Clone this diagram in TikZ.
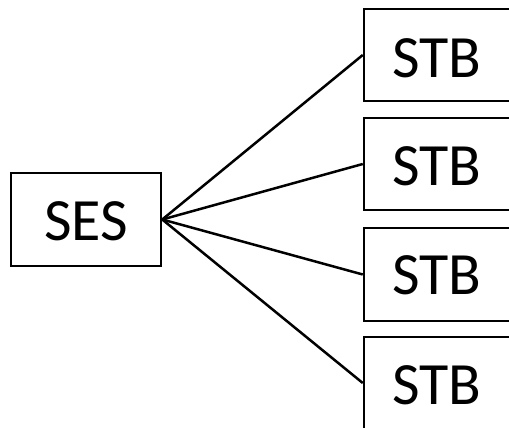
\documentclass[tikz,border=0pt]{standalone}
\usepackage{fontspec}
\setmainfont{Carlito}
\begin{document}
\begin{tikzpicture}[x=1pt,y=-1pt,
  box/.style={draw=black,line width=2.5pt,rectangle,inner sep=0pt},
  lab/.style={font=\fontsize{60}{72}\selectfont,inner sep=0pt,anchor=center},
  conn/.style={draw=black,line width=2.5pt}]
\useasboundingbox (0,0) rectangle (509,428);
\clip (0,0) rectangle (509,428);
\node[box,minimum width=150pt,minimum height=93pt] (ses) at (86,219.5) {};
\node[box,minimum width=160pt,minimum height=92pt] (b1) at (444,55) {};
\node[box,minimum width=160pt,minimum height=92pt] (b2) at (444,164) {};
\node[box,minimum width=160pt,minimum height=93pt] (b3) at (444,274.5) {};
\node[box,minimum width=160pt,minimum height=92pt] (b4) at (444,383) {};
\node[lab] (tses) at (86,221) {SES};
\node[lab] (t1) at (437,58) {STB};
\node[lab] (t2) at (437,166) {STB};
\node[lab] (t3) at (437,275) {STB};
\node[lab] (t4) at (437,385) {STB};
\coordinate (c) at (ses.east);
\draw[conn] (c) -- (b1.west);
\draw[conn] (c) -- (b2.west);
\draw[conn] (c) -- (b3.west);
\draw[conn] (c) -- (b4.west);
\end{tikzpicture}
\end{document}
